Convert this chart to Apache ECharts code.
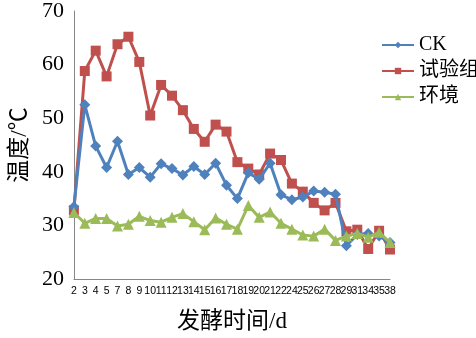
<!DOCTYPE html>
<html>
<head>
<meta charset="utf-8">
<script src="https://cdn.jsdelivr.net/npm/echarts@6/dist/echarts.min.js"></script>
<style>html,body{margin:0;padding:0;background:#fff;}#c{width:476px;height:338px;}</style>
</head>
<body>
<div id="c"></div>
<script>
var categories = ['2','3','4','5','7','8','9','10','11','12','13','14','15','16','17','18','19','20','21','22','24','25','26','27','28','29','31','34','35','38'];
var ckValues = [33.5, 52.5, 44.8, 40.8, 45.7, 39.5, 40.8, 39.0, 41.5, 40.6, 39.4, 41.0, 39.5, 41.6, 37.5, 35.0, 39.8, 38.6, 41.6, 35.7, 34.8, 35.3, 36.4, 36.2, 35.8, 26.2, 28.3, 28.5, 28.0, 26.8];
var testValues = [32.8, 58.8, 62.6, 57.8, 63.8, 65.2, 60.5, 50.5, 56.2, 54.2, 51.5, 48.0, 45.6, 48.8, 47.5, 41.8, 40.6, 39.5, 43.4, 42.2, 37.8, 36.3, 34.2, 32.8, 34.2, 28.9, 29.2, 25.6, 29.0, 25.5];
var envValues = [32.4, 30.4, 31.3, 31.3, 29.9, 30.2, 31.7, 30.9, 30.6, 31.5, 32.2, 30.7, 29.2, 31.4, 30.2, 29.3, 33.7, 31.5, 32.5, 30.4, 29.3, 28.2, 28.0, 29.3, 27.2, 28.0, 28.5, 27.8, 28.7, 26.8];
var seriesNames = ['CK', '试验组', '环境'];
var yTicks = {min: 20, max: 70, interval: 10};

var chart = echarts.init(document.getElementById('c'));
var serif = '"Liberation Serif", "Noto Sans CJK SC", serif';
chart.setOption({
  animation: false,
  backgroundColor: '#ffffff',
  grid: {left: 65, right: 86, top: 10, bottom: 41, containLabel: false},
  legend: {
    orient: 'vertical', left: 376, top: 30, itemGap: 6,
    itemWidth: 32, itemHeight: 8,
    textStyle: {fontFamily: serif, fontSize: 20, color: '#000'},
    data: seriesNames
  },
  xAxis: {
    type: 'category', data: categories, boundaryGap: false,
    name: '发酵时间/d', nameLocation: 'middle', nameGap: 31,
    nameTextStyle: {fontFamily: serif, fontSize: 23, color: '#000'},
    axisLine: {lineStyle: {color: '#878787', width: 1}},
    axisTick: {show: false},
    axisLabel: {interval: 0, margin: 7, fontSize: 10.5, color: '#000', fontFamily: '"Liberation Sans Narrow", "Liberation Sans", sans-serif'},
    splitLine: {show: false}
  },
  yAxis: {
    type: 'value', min: yTicks.min, max: yTicks.max, interval: yTicks.interval,
    name: '温度/℃', nameLocation: 'middle', nameGap: 40, nameRotate: 90,
    nameTextStyle: {fontFamily: serif, fontSize: 23, color: '#000'},
    axisLine: {show: true, lineStyle: {color: '#878787', width: 1}},
    axisTick: {show: false},
    axisLabel: {fontFamily: serif, fontSize: 22, color: '#000', margin: 10},
    splitLine: {show: false}
  },
  series: [
    {name: seriesNames[0], type: 'line', data: ckValues, symbol: 'diamond', symbolSize: 11,
     lineStyle: {color: '#4F81BD', width: 3}, itemStyle: {color: '#4F81BD'}, z: 3},
    {name: seriesNames[1], type: 'line', data: testValues, symbol: 'rect', symbolSize: 10,
     lineStyle: {color: '#C0504D', width: 3}, itemStyle: {color: '#C0504D'}, z: 2},
    {name: seriesNames[2], type: 'line', data: envValues, symbol: 'triangle', symbolSize: 11,
     lineStyle: {color: '#9BBB59', width: 3}, itemStyle: {color: '#9BBB59'}, z: 4}
  ]
});
</script>
</body>
</html>
